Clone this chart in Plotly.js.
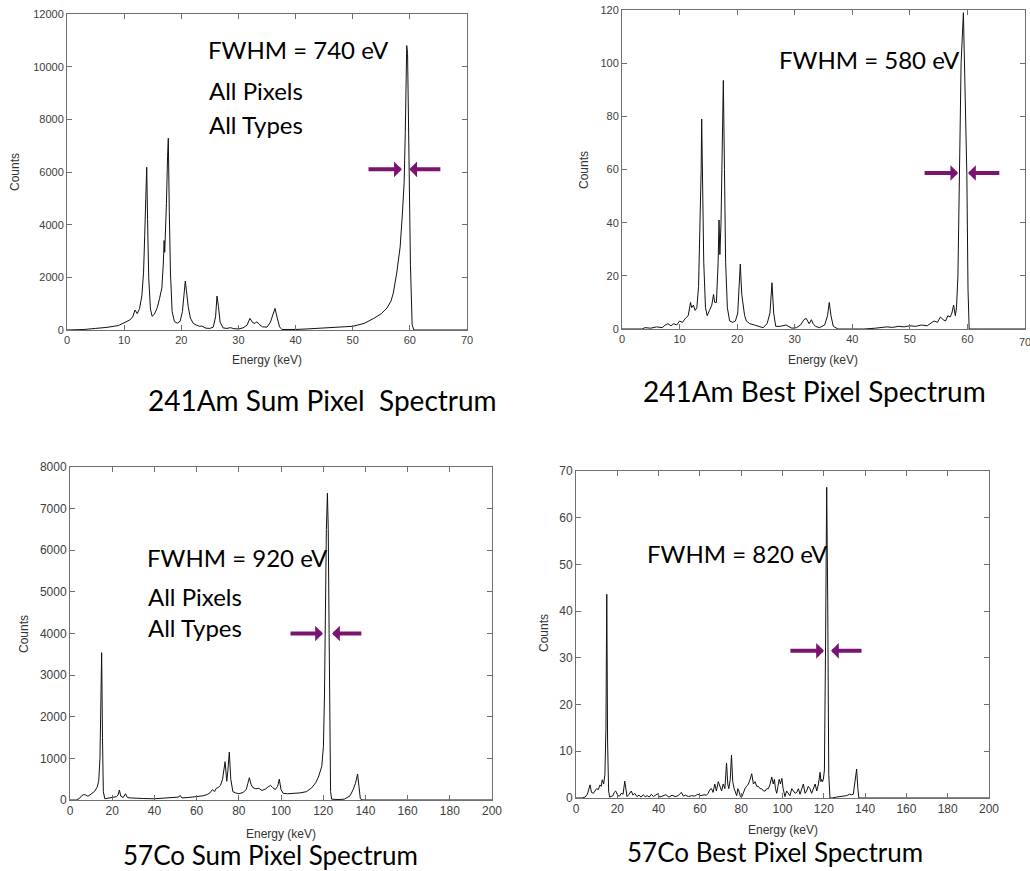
<!DOCTYPE html>
<html>
<head>
<meta charset="utf-8">
<script src="https://cdn.plot.ly/plotly-3.0.1.min.js"></script>
<style>html,body{margin:0;padding:0;background:#fff;}#chart{width:1030px;height:871px;}</style>
</head>
<body>
<div id="chart"></div>
<script>
// ---------- 241Am sum pixel spectrum ----------
const amSumEnergy = [0, 1, 3, 5, 7, 9, 10, 11, 11.5, 11.9, 12.3, 12.7, 13.1, 13.4, 13.6, 13.8, 13.95, 14.1, 14.3, 14.6, 14.9, 15.3, 15.8, 16.2, 16.6, 16.85, 17.0, 17.1, 17.2, 17.4, 17.6, 17.73, 17.9, 18.1, 18.4, 18.8, 19.3, 19.8, 20.2, 20.5, 20.7, 20.9, 21.2, 21.6, 22.1, 22.7, 23.2, 23.6, 24.3, 25.0, 25.6, 26.0, 26.25, 26.5, 26.8, 27.3, 28.0, 28.6, 29.2, 30.0, 30.8, 31.5, 32.0, 32.5, 32.9, 33.2, 33.6, 34.2, 35.0, 35.6, 36.1, 36.4, 36.8, 37.2, 37.6, 38.5, 40, 42, 44, 46, 48, 50, 52, 53.6, 55, 56, 56.7, 57.1, 57.7, 58.3, 58.7, 59.0, 59.2, 59.35, 59.45, 59.6, 59.85, 60.1, 60.4, 60.7, 62, 66, 70];
const amSumCounts = [0, 0, 20, 60, 100, 170, 260, 380, 500, 760, 620, 820, 1300, 2200, 3600, 5400, 6180, 4200, 2000, 800, 520, 600, 850, 1200, 1600, 2500, 3400, 2950, 3400, 4800, 6600, 7280, 4500, 2200, 700, 320, 260, 330, 700, 1400, 1860, 1500, 900, 450, 250, 180, 140, 150, 70, 60, 110, 500, 1290, 900, 300, 80, 60, 90, 50, 40, 80, 180, 440, 280, 250, 315, 220, 120, 110, 300, 650, 820, 450, 120, 20, 10, 20, 40, 60, 80, 100, 140, 250, 430, 620, 835, 1100, 1400, 2160, 3150, 4440, 5600, 7500, 9500, 10800, 10500, 5700, 2500, 200, 0, 0, 0, 0];

// ---------- 241Am best pixel spectrum ----------
const amBestEnergy = [0, 3.5, 4, 5, 6, 7, 7.5, 8, 8.5, 9, 9.5, 10, 10.5, 11, 11.5, 11.9, 12.1, 12.4, 12.7, 13.0, 13.3, 13.55, 13.75, 13.84, 14.0, 14.2, 14.5, 14.8, 15.2, 15.6, 15.9, 16.1, 16.4, 16.7, 16.85, 17.0, 17.2, 17.4, 17.6, 17.8, 18.0, 18.3, 18.7, 19.2, 19.7, 20.1, 20.35, 20.55, 20.8, 21.0, 21.3, 21.6, 22.2, 23, 23.8, 24.5, 25.2, 25.7, 26.05, 26.35, 26.7, 27.5, 28.5, 29.5, 30.3, 31, 31.6, 32.0, 32.5, 32.9, 33.2, 33.6, 34.3, 35.2, 35.7, 36.0, 36.3, 36.7, 37.5, 40, 42, 44, 45, 46, 47, 48, 49, 50, 51, 52, 53, 53.5, 54.2, 54.8, 55.3, 55.8, 56.2, 56.6, 57.0, 57.3, 57.6, 57.9, 58.1, 58.35, 58.65, 58.9, 59.3, 59.6, 59.9, 60.1, 60.3, 62, 70];
const amBestCounts = [0, 0, 0.5, 0.3, 0.8, 0.5, 1.5, 2, 1.2, 2, 1.5, 3, 2.5, 4, 5, 10, 8, 9, 7, 8, 16, 35, 60, 79, 55, 25, 8, 5, 7, 9, 13, 10, 10, 25, 41, 28, 40, 65, 93.5, 60, 25, 8, 3, 2.5, 3, 6, 14, 24.4, 13, 10, 5, 3, 2, 1.5, 1, 0.5, 2, 6, 17.4, 6, 1, 1, 1.5, 0.3, 0.5, 1.5, 3.5, 4, 2, 3.5, 2, 1, 0.5, 1.5, 5, 10, 5, 1, 0, 0, 0, 0.3, 0.5, 0.8, 0.6, 1, 0.8, 1.2, 1, 1.5, 1.2, 2, 3, 2.5, 4.5, 3.5, 3, 5, 4.5, 6, 9, 5, 8, 20, 58, 100, 119, 90, 58, 15, 0, 0, 0];

// ---------- 57Co sum pixel spectrum ----------
const coSumEnergy = [0, 3, 4.5, 5.5, 6.5, 7.5, 8.5, 10, 11.5, 12.8, 13.6, 14.2, 14.6, 15.0, 15.4, 15.8, 16.5, 18, 20, 22, 22.8, 23.4, 24.1, 25.2, 26.3, 27.2, 28.5, 31, 35, 40, 45, 50, 51.5, 52.2, 53, 56, 60, 63, 65, 66.5, 67.5, 68.5, 69.3, 70.2, 71.3, 72.3, 73.5, 74.3, 74.8, 75.5, 76.2, 77.2, 78.5, 80, 82, 83.5, 84.3, 85.0, 85.8, 86.6, 88, 89.5, 91, 92.5, 94, 95, 96, 97.3, 98.4, 99.2, 100, 101, 103, 106, 109, 112, 114.5, 116.5, 117.7, 119.3, 120.1, 120.6, 121.0, 121.5, 122.0, 122.4, 122.8, 123.1, 123.5, 124, 127, 130, 132.7, 134.2, 135.3, 136.3, 137.1, 137.6, 138.5, 140, 200];
const coSumCounts = [0, 0, 40, 100, 130, 120, 90, 140, 200, 300, 450, 1000, 2200, 3540, 1500, 200, 30, 40, 50, 80, 120, 240, 90, 60, 150, 60, 50, 40, 35, 30, 40, 50, 70, 110, 50, 60, 80, 100, 130, 180, 250, 200, 280, 300, 350, 500, 920, 450, 700, 1150, 500, 200, 170, 150, 180, 250, 400, 536, 380, 300, 270, 280, 230, 260, 320, 350, 300, 250, 330, 500, 250, 160, 150, 160, 170, 200, 290, 420, 550, 800, 1280, 2500, 4500, 6500, 7370, 6500, 4000, 1500, 200, 20, 10, 20, 100, 250, 400, 625, 150, 30, 5, 0, 0];

// ---------- 57Co best pixel spectrum ----------
const coBestEnergy = [0, 3, 4.4, 5.5, 6.8, 7.5, 8.4, 9.2, 10, 10.8, 11.6, 12.2, 12.7, 13.4, 14.0, 14.5, 14.9, 15.3, 15.8, 16.3, 17.1, 17.9, 18.5, 19.2, 20.3, 21.1, 21.9, 22.8, 23.6, 24.7, 25.7, 26.8, 27.6, 28.4, 29.5, 30.5, 31.5, 32.5, 33.5, 34.5, 35.5, 36.5, 37.5, 38.5, 39.5, 40.5, 42, 43.5, 45, 46.5, 48, 49.5, 51, 52, 53, 54.5, 56, 57.5, 59, 60.5, 62, 63.2, 64, 64.8, 65.6, 66.4, 67.2, 68, 68.9, 69.7, 70.5, 71.3, 72.1, 72.9, 73.5, 74.0, 74.7, 75.3, 75.9, 76.6, 77.2, 77.8, 78.4, 78.9, 79.6, 80.2, 81, 81.8, 82.6, 83.5, 84.3, 85.1, 85.9, 86.7, 87.5, 88.3, 89.1, 89.9, 90.8, 91.6, 92.4, 93.2, 94, 94.8, 95.5, 96.1, 96.6, 97.2, 97.8, 98.4, 99.0, 99.7, 100.3, 100.8, 101.2, 102, 102.8, 103.6, 104.5, 105.3, 106.1, 106.9, 107.7, 108.5, 109.3, 110.1, 110.9, 111.7, 112.5, 113.3, 114.1, 114.9, 115.8, 116.6, 117.4, 118.2, 118.6, 119.0, 119.4, 119.8, 120.3, 120.8, 121.4, 121.9, 122.4, 123.0, 124, 126.2, 128, 130, 131, 132.5, 133.5, 134.3, 135.0, 135.9, 136.5, 137, 140, 200];
const coBestCounts = [0, 0, 0.2, 0.8, 2.8, 1.2, 1.0, 1.5, 2.0, 1.8, 2.8, 2.5, 3.9, 3.0, 5.0, 15, 43.6, 12, 1.5, 0.2, 0.4, 0.5, 1.2, 1.5, 0.5, 0.4, 1.0, 0.8, 3.6, 0.3, 0.8, 1.5, 0.6, 1.0, 0.3, 0.6, 0.2, 0.7, 0.3, 0.5, 0.2, 0.8, 0.3, 0.6, 0.9, 0.2, 0.5, 0.7, 0.2, 0.6, 0.3, 0.5, 1.2, 0.4, 0.6, 0.3, 0.5, 0.4, 0.8, 0.5, 0.7, 0.6, 1.0, 1.8, 2.0, 1.2, 3.0, 1.5, 3.5, 2.5, 1.5, 3.0, 2.0, 7.5, 3.0, 2.0, 4.0, 9.2, 3.5, 2.0, 1.0, 0.5, 2.0, 1.5, 0.3, 0.2, 1.0, 2.0, 2.5, 3.0, 4.0, 5.2, 3.0, 3.5, 2.5, 2.5, 2.0, 2.0, 1.5, 1.5, 2.0, 2.0, 3.0, 4.5, 3.0, 4.0, 2.0, 1.0, 2.5, 4.0, 3.0, 4.2, 2.0, 0.5, 0.3, 1.5, 1.0, 0.5, 2.0, 1.5, 1.0, 1.2, 2.0, 0.8, 2.0, 3.0, 1.0, 1.5, 2.5, 2.0, 1.0, 2.0, 3.0, 1.5, 3.0, 5.5, 3.5, 4.0, 3.5, 4.0, 6, 30, 66.5, 42, 5, 0, 0, 0.2, 0.3, 0.5, 0.5, 0.8, 0.7, 0.8, 3.0, 6.2, 2.0, 0, 0, 0];

// ---------- tick labels ----------
const amSumYTicks = [0, 2000, 4000, 6000, 8000, 10000, 12000];
const amSumYLabels = ['0', '2000', '4000', '6000', '8000', '10000', '12000'];
const amBestYTicks = [0, 20, 40, 60, 80, 100, 120];
const coSumYTicks = [0, 1000, 2000, 3000, 4000, 5000, 6000, 7000, 8000];
const coSumYLabels = ['0', '1000', '2000', '3000', '4000', '5000', '6000', '7000', '8000'];
const coBestYTicks = [0, 10, 20, 30, 40, 50, 60, 70];
const amXTicks = [0, 10, 20, 30, 40, 50, 60, 70];
const coXTicks = [0, 20, 40, 60, 80, 100, 120, 140, 160, 180, 200];

// ---------- FWHM markers: [head left, head right, tail left, tail right, level] ----------
const fwhmAmSum = [58.6, 59.9, 52.5, 65.6, 6100];
const fwhmAmBest = [58.4, 60.1, 52.3, 65.8, 58.7];
const fwhmCoSum = [119.9, 124.2, 103.8, 138.8, 4000];
const fwhmCoBest = [120.1, 123.5, 103.1, 139.0, 31.5];

const W = 1030, H = 871;
const px = v => v / W;
const py = v => 1 - v / H;

function lineTrace(x, y, xa, ya) {
  return {x: x, y: y, xaxis: xa, yaxis: ya, type: 'scatter', mode: 'lines',
          line: {color: '#111111', width: 1}, hoverinfo: 'skip', showlegend: false};
}
const data = [
  lineTrace(amSumEnergy, amSumCounts, 'x', 'y'),
  lineTrace(amBestEnergy, amBestCounts, 'x2', 'y2'),
  lineTrace(coSumEnergy, coSumCounts, 'x3', 'y3'),
  lineTrace(coBestEnergy, coBestCounts, 'x4', 'y4')
];

const tickFont = {family: 'Liberation Sans, Arial, sans-serif', size: 11, color: '#404040'};
function xax(dom, anchor, range, ticks, fsize) {
  return {domain: dom, anchor: anchor, range: range, tickvals: ticks, ticktext: ticks.map(String),
          showgrid: false, zeroline: false, showline: true, mirror: 'ticks', linecolor: '#707070', linewidth: 1,
          ticks: 'inside', ticklen: 5, tickcolor: '#707070', tickfont: Object.assign({}, tickFont, {size: fsize}),
          automargin: false, fixedrange: true};
}
function yax(dom, anchor, range, ticks, labels, fsize) {
  return {domain: dom, anchor: anchor, range: range, tickvals: ticks, ticktext: labels,
          showgrid: false, zeroline: false, showline: true, mirror: 'ticks', linecolor: '#707070', linewidth: 1,
          ticks: 'inside', ticklen: 5, tickcolor: '#707070', tickfont: Object.assign({}, tickFont, {size: fsize}),
          automargin: false, fixedrange: true};
}

const annotations = [];
const purple = '#7a1470';
function arrows(m, xr, yr) {
  annotations.push({x: m[0], y: m[4], ax: m[2], ay: m[4], xref: xr, yref: yr, axref: xr, ayref: yr,
    text: '', showarrow: true, arrowhead: 1, arrowsize: 0.65, arrowwidth: 4, arrowcolor: purple, standoff: 0});
  annotations.push({x: m[1], y: m[4], ax: m[3], ay: m[4], xref: xr, yref: yr, axref: xr, ayref: yr,
    text: '', showarrow: true, arrowhead: 1, arrowsize: 0.65, arrowwidth: 4, arrowcolor: purple, standoff: 0});
}
arrows(fwhmAmSum, 'x', 'y');
arrows(fwhmAmBest, 'x2', 'y2');
arrows(fwhmCoSum, 'x3', 'y3');
arrows(fwhmCoBest, 'x4', 'y4');

const bigFont = {family: 'Lato, Open Sans, sans-serif', size: 24, color: '#000'};
const titleFontTop = {family: 'Lato, Open Sans, sans-serif', size: 28, color: '#000'};
const titleFontBottom = {family: 'Lato, Open Sans, sans-serif', size: 26, color: '#000'};
const axFont = {family: 'Liberation Sans, Arial, sans-serif', size: 12, color: '#333'};
function txt(t, x, y, font, anchor, angle) {
  annotations.push({text: t, x: px(x), y: py(y), xref: 'paper', yref: 'paper', showarrow: false,
    xanchor: anchor || 'left', yanchor: 'middle', font: font, textangle: angle || 0});
}
txt('FWHM = 740 eV', 206, 50, bigFont);
txt('All Pixels', 207, 91, bigFont);
txt('All Types', 207, 124, bigFont);
txt('FWHM = 580 eV', 777, 60, bigFont);
txt('FWHM = 920 eV', 145, 557, bigFont);
txt('All Pixels', 146, 596, bigFont);
txt('All Types', 146, 627, bigFont);
txt('FWHM = 820 eV', 645, 553, bigFont);

txt('241Am Sum Pixel&nbsp; Spectrum', 322, 400, titleFontTop, 'center');
txt('241Am Best Pixel Spectrum', 814, 391, titleFontTop, 'center');
txt('57Co Sum Pixel Spectrum', 270, 855, titleFontBottom, 'center');
txt('57Co Best Pixel Spectrum', 775, 852, titleFontBottom, 'center');

txt('Counts', 15, 172, axFont, 'center', -90);
txt('Counts', 584, 170, axFont, 'center', -90);
txt('Counts', 24, 634, axFont, 'center', -90);
txt('Counts', 544, 633, axFont, 'center', -90);
txt('Energy (keV)', 267, 360, axFont, 'center');
txt('Energy (keV)', 823, 360, axFont, 'center');
txt('Energy (keV)', 281, 834, axFont, 'center');
txt('Energy (keV)', 783, 830, axFont, 'center');
// last x tick label of the top-right panel, which sits on the page edge (partly cut, as in the original)
txt(String(amXTicks[amXTicks.length - 1]), 1025, 342, tickFont, 'center');

const layout = {
  width: W, height: H,
  margin: {l: 0, r: 0, t: 0, b: 0},
  paper_bgcolor: '#ffffff', plot_bgcolor: '#ffffff',
  showlegend: false,
  xaxis: xax([px(67), px(467)], 'y', [0, 70], amXTicks, 11),
  yaxis: yax([py(330), py(14)], 'x', [0, 12000], amSumYTicks, amSumYLabels, 11),
  xaxis2: xax([px(622), px(1025)], 'y2', [0, 70], amXTicks, 11),
  yaxis2: yax([py(329), py(10)], 'x2', [0, 120], amBestYTicks, amBestYTicks.map(String), 11),
  xaxis3: xax([px(70), px(492)], 'y3', [0, 200], coXTicks, 12),
  yaxis3: yax([py(800), py(467)], 'x3', [0, 8000], coSumYTicks, coSumYLabels, 12),
  xaxis4: xax([px(576), px(989)], 'y4', [0, 200], coXTicks, 12),
  yaxis4: yax([py(798), py(471)], 'x4', [0, 70], coBestYTicks, coBestYTicks.map(String), 12),
  annotations: annotations
};

Plotly.newPlot('chart', data, layout, {staticPlot: true, displayModeBar: false});
</script>
</body>
</html>
